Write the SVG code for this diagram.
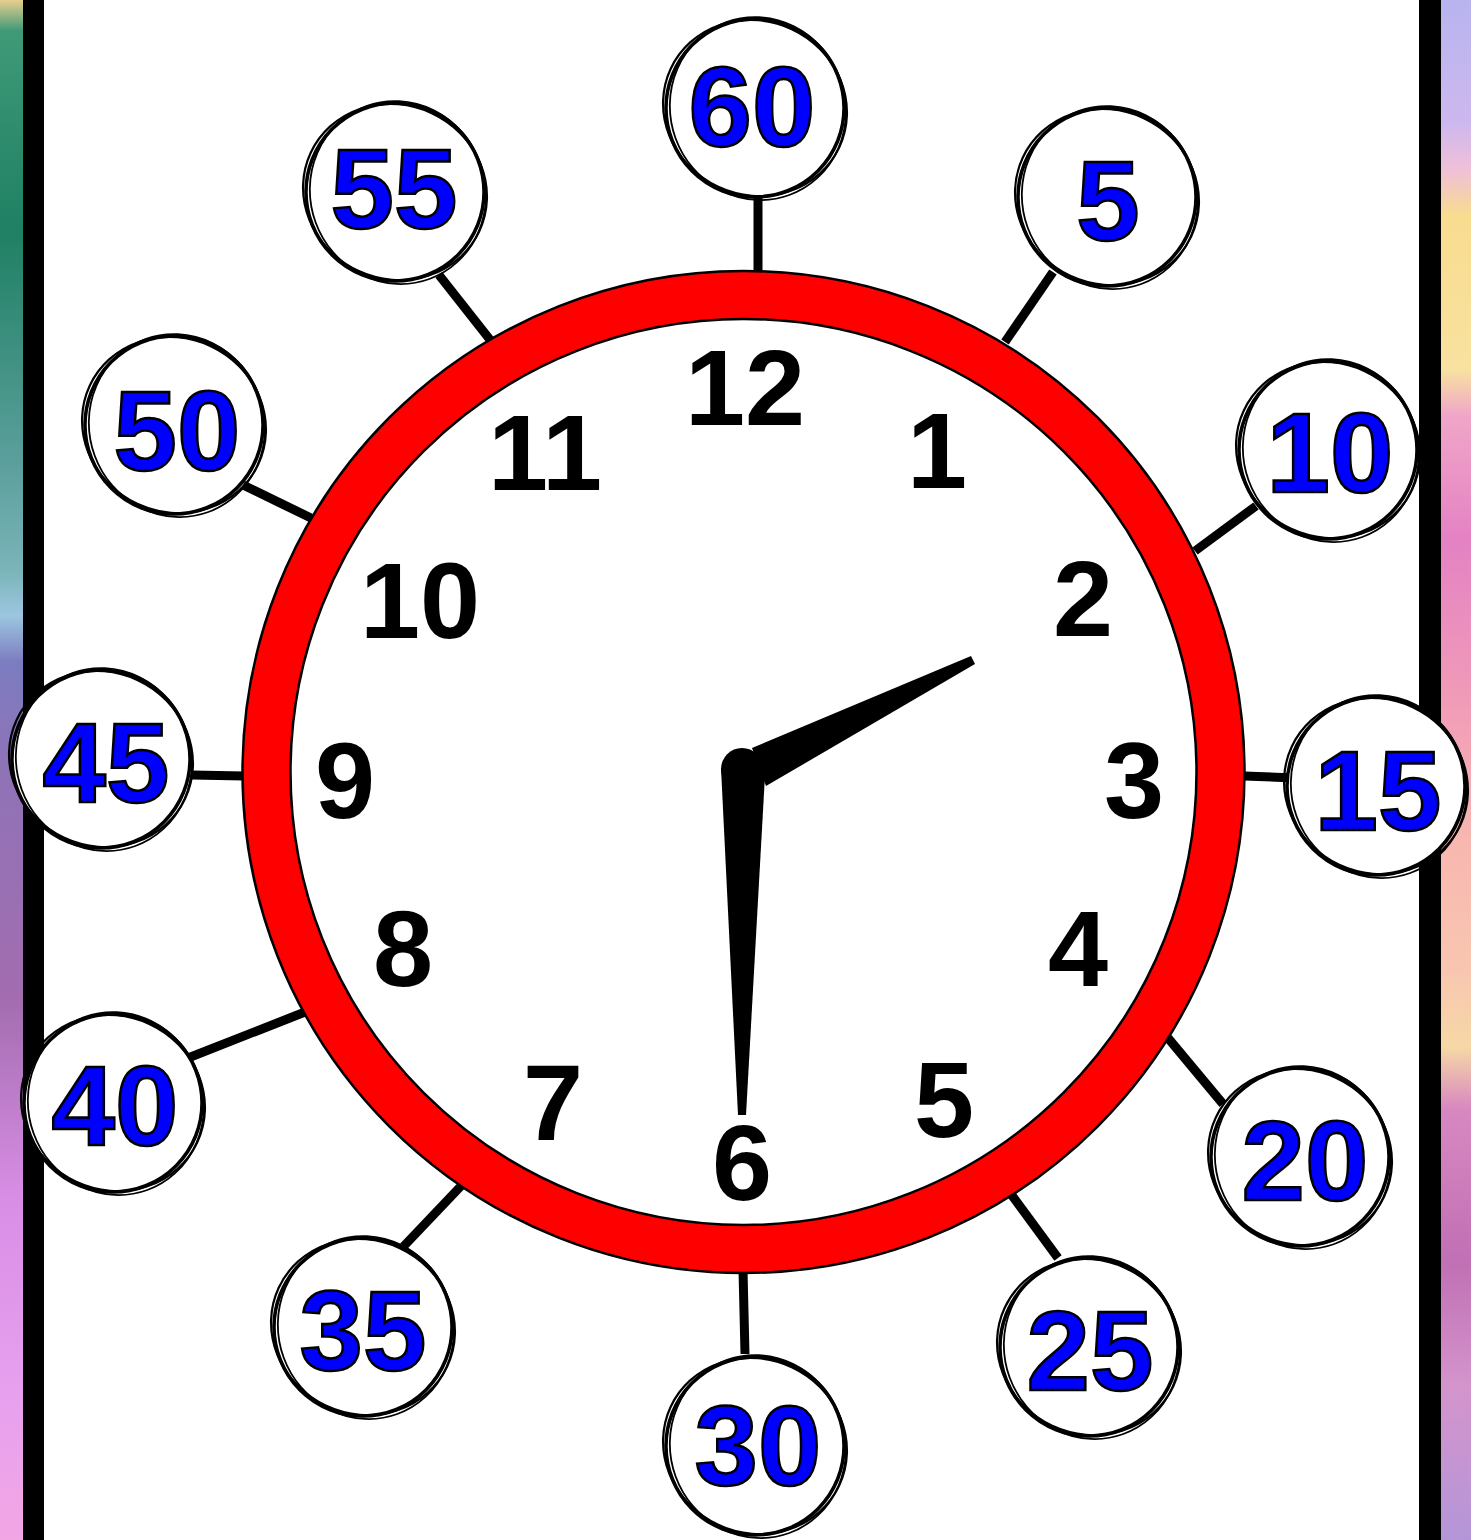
<svg xmlns="http://www.w3.org/2000/svg" xmlns:xlink="http://www.w3.org/1999/xlink" width="1471" height="1540" viewBox="0 0 1471 1540">
<style>
.conn{stroke:#000;stroke-width:9;stroke-linecap:butt;fill:none}
.hr{font-family:"Liberation Sans",Arial,sans-serif;font-weight:bold;font-size:108px;fill:#000;text-anchor:middle}
.mn{font-family:"Liberation Sans",Arial,sans-serif;font-weight:bold;font-size:114px;fill:#0000ff;stroke:#000;stroke-width:2.5;text-anchor:middle}
</style>
<defs>
<linearGradient id="bgL" x1="0" y1="0" x2="0" y2="1">
<stop offset="0" stop-color="#e8cf8e"/>
<stop offset="0.02" stop-color="#3f9a78"/>
<stop offset="0.15" stop-color="#1f8063"/>
<stop offset="0.3" stop-color="#5b9f9c"/>
<stop offset="0.37" stop-color="#7ab4b8"/>
<stop offset="0.4" stop-color="#9cc6e0"/>
<stop offset="0.43" stop-color="#7c7cc0"/>
<stop offset="0.5" stop-color="#8f72b6"/>
<stop offset="0.65" stop-color="#a36db0"/>
<stop offset="0.78" stop-color="#d98ee6"/>
<stop offset="0.9" stop-color="#e6a0ee"/>
<stop offset="1" stop-color="#f2a6e4"/>
</linearGradient>
<linearGradient id="bgR" x1="0" y1="0" x2="0" y2="1">
<stop offset="0" stop-color="#b8b4ee"/>
<stop offset="0.08" stop-color="#cdb8ee"/>
<stop offset="0.11" stop-color="#f0c0d8"/>
<stop offset="0.14" stop-color="#f8dc90"/>
<stop offset="0.24" stop-color="#f8e2a0"/>
<stop offset="0.27" stop-color="#f0a6c8"/>
<stop offset="0.35" stop-color="#e482c4"/>
<stop offset="0.45" stop-color="#f09ab8"/>
<stop offset="0.55" stop-color="#f8b8b0"/>
<stop offset="0.63" stop-color="#f8c6b0"/>
<stop offset="0.68" stop-color="#f6d8a6"/>
<stop offset="0.72" stop-color="#d888c0"/>
<stop offset="0.82" stop-color="#c070b4"/>
<stop offset="0.9" stop-color="#d494cc"/>
<stop offset="1" stop-color="#b496d8"/>
</linearGradient>
<g id="sk">
<circle r="89" fill="#fff" stroke="#000" stroke-width="3.5"/>
<ellipse rx="93" ry="87" transform="rotate(25)" fill="none" stroke="#000" stroke-width="2.2"/>
<ellipse rx="87.5" ry="92" transform="rotate(-20) translate(2.5,1.5)" fill="none" stroke="#000" stroke-width="1.8"/>
</g>
</defs>

<g id="background">
<rect x="0" y="0" width="24" height="1540" fill="url(#bgL)"/>
<rect x="1440" y="0" width="31" height="1540" fill="url(#bgR)"/>
<rect x="44" y="0" width="1376" height="1540" fill="#fff"/>
<rect x="23" y="0" width="21" height="1540" fill="#000"/>
<rect x="1419" y="0" width="22" height="1540" fill="#000"/>
</g>

<g id="connectors">
<line class="conn" x1="758" y1="198" x2="758" y2="274"/>
<line class="conn" x1="1053" y1="272" x2="1005" y2="342"/>
<line class="conn" x1="1256" y1="506" x2="1195" y2="551"/>
<line class="conn" x1="1244" y1="776" x2="1294" y2="778"/>
<line class="conn" x1="1168" y1="1038" x2="1223" y2="1104"/>
<line class="conn" x1="1011" y1="1194" x2="1058" y2="1258"/>
<line class="conn" x1="743" y1="1270" x2="745" y2="1354"/>
<line class="conn" x1="461" y1="1186" x2="403" y2="1247"/>
<line class="conn" x1="305" y1="1012" x2="188" y2="1058"/>
<line class="conn" x1="244" y1="776" x2="192" y2="775"/>
<line class="conn" x1="311" y1="518" x2="243" y2="485"/>
<line class="conn" x1="491" y1="341" x2="439" y2="275"/>
</g>

<g id="clock-face">
<circle cx="743.5" cy="772" r="477" fill="none" stroke="#ff0000" stroke-width="48"/>
<circle cx="743.5" cy="772" r="501" fill="none" stroke="#000" stroke-width="2.5"/>
<circle cx="743.5" cy="772" r="453" fill="#fff" stroke="#000" stroke-width="2.5"/>
</g>

<g id="node-60"><use xlink:href="#sk" x="755" y="108"/><text class="mn" x="752" y="146">60</text></g>
<g id="node-5"><use xlink:href="#sk" x="1107" y="197"/><text class="mn" x="1108" y="240">5</text></g>
<g id="node-10"><use xlink:href="#sk" x="1328" y="450"/><text class="mn" x="1330" y="492">10</text></g>
<g id="node-15"><use xlink:href="#sk" x="1376" y="786"/><text class="mn" x="1378" y="830">15</text></g>
<g id="node-20"><use xlink:href="#sk" x="1300" y="1157"/><text class="mn" x="1305" y="1200">20</text></g>
<g id="node-25"><use xlink:href="#sk" x="1089" y="1347"/><text class="mn" x="1090" y="1390">25</text></g>
<g id="node-30"><use xlink:href="#sk" x="755" y="1446"/><text class="mn" x="758" y="1485">30</text></g>
<g id="node-35"><use xlink:href="#sk" x="363" y="1327"/><text class="mn" x="363" y="1370">35</text></g>
<g id="node-40"><use xlink:href="#sk" x="113" y="1103"/><text class="mn" x="115" y="1145">40</text></g>
<g id="node-45"><use xlink:href="#sk" x="101" y="759"/><text class="mn" x="106" y="802">45</text></g>
<g id="node-50"><use xlink:href="#sk" x="174" y="425"/><text class="mn" x="177" y="470">50</text></g>
<g id="node-55"><use xlink:href="#sk" x="395" y="192"/><text class="mn" x="394" y="228">55</text></g>

<g id="hour-numbers">
<text class="hr" x="745" y="425">12</text>
<text class="hr" x="937" y="488">1</text>
<text class="hr" x="1083" y="636">2</text>
<text class="hr" x="1134" y="818">3</text>
<text class="hr" x="1078" y="986">4</text>
<text class="hr" x="944" y="1137">5</text>
<text class="hr" x="742" y="1200">6</text>
<text class="hr" x="553" y="1140">7</text>
<text class="hr" x="403" y="986">8</text>
<text class="hr" x="345" y="818">9</text>
<text class="hr" x="420" y="638">10</text>
<text class="hr" x="545" y="490">11</text>
</g>

<g id="hands" fill="#000">
<polygon points="752,748 971,656 975,664 766,786"/>
<polygon points="721,768 765,775 746,1115 738,1115"/>
<circle cx="742" cy="769" r="21"/>
</g>
</svg>
